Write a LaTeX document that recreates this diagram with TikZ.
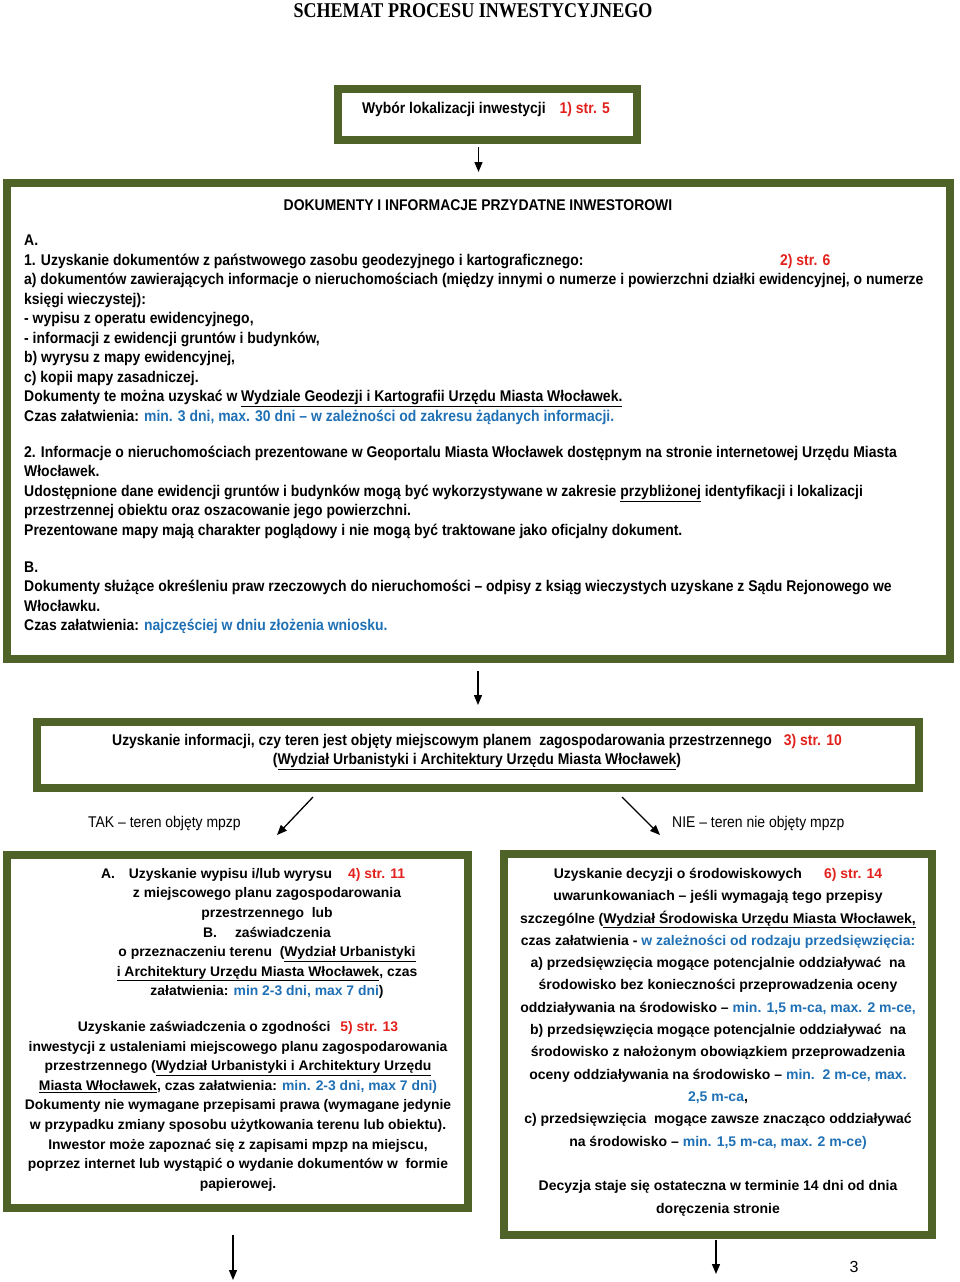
\documentclass[tikz,border=0pt]{standalone}
\usepackage{fontspec}
\setmainfont{Liberation Sans}
\newfontfamily\narrowfont[FakeStretch=0.9]{Liberation Sans}
\newfontfamily\titlefont[FakeStretch=0.86]{Liberation Serif}
\usetikzlibrary{positioning, arrows.meta}
\definecolor{olivebox}{HTML}{4F6228}
\definecolor{refred}{HTML}{E2211C}
\definecolor{timeblue}{HTML}{1F70B5}
\newcommand{\strref}[1]{\textcolor{refred}{#1}}
\newcommand{\czas}[1]{\textcolor{timeblue}{#1}}
\newcommand{\undl}[1]{\underline{#1}}

\begin{document}
\begin{tikzpicture}[x=1pt, y=-1pt,
	frame/.style={draw=olivebox, line width=8pt, fill=white, inner sep=0pt},
	narrow/.style={font=\narrowfont\bfseries\fontsize{15.5}{19.5}\selectfont, inner sep=0pt},
	plain/.style={font=\narrowfont\fontsize{15.5}{18}\selectfont, inner sep=0pt},
	boldtxt/.style={font=\bfseries\fontsize{13.9}{19.6}\selectfont, inner sep=0pt, align=center},
	arr/.style={-{Triangle[length=10pt,width=8pt]}, line width=1.3pt}]
	\useasboundingbox (0,0) rectangle (960,1282);
	\node[font=\titlefont\bfseries\fontsize{21}{24}\selectfont, inner sep=0pt] (title) at (473,11) {SCHEMAT PROCESU INWESTYCYJNEGO};

	\node[frame, minimum width=299pt, minimum height=51pt] (lok) at (487.5,114.5) {};
	\node[narrow] (lokT) at (486,109) {Wybór lokalizacji inwestycji\hspace{14pt}\strref{1) str. 5}};

	\node[frame, minimum width=943pt, minimum height=476pt] (docs) at (478.5,421) {};
	\node[narrow] (docsTitle) at (478,205) {DOKUMENTY I INFORMACJE PRZYDATNE INWESTOROWI};
	\node[narrow, align=left, anchor=north west] (docsText) at (24,235) {A.\\
		1. Uzyskanie dokumentów z państwowego zasobu geodezyjnego i kartograficznego:\\
		a) dokumentów zawierających informacje o nieruchomościach (między innymi o numerze i powierzchni działki ewidencyjnej, o numerze\\
		księgi wieczystej):\\
		- wypisu z operatu ewidencyjnego,\\
		- informacji z ewidencji gruntów i budynków,\\
		b) wyrysu z mapy ewidencyjnej,\\
		c) kopii mapy zasadniczej.\\
		Dokumenty te można uzyskać w \undl{Wydziale Geodezji i Kartografii Urzędu Miasta Włocławek.}\\
		Czas załatwienia: \czas{min. 3 dni, max. 30 dni – w zależności od zakresu żądanych informacji.}\\[16.5pt]
		2. Informacje o nieruchomościach prezentowane w Geoportalu Miasta Włocławek dostępnym na stronie internetowej Urzędu Miasta\\
		Włocławek.\\
		Udostępnione dane ewidencji gruntów i budynków mogą być wykorzystywane w zakresie \undl{przybliżonej} identyfikacji i lokalizacji\\
		przestrzennej obiektu oraz oszacowanie jego powierzchni.\\
		Prezentowane mapy mają charakter poglądowy i nie mogą być traktowane jako oficjalny dokument.\\[17.5pt]
		B.\\
		Dokumenty służące określeniu praw rzeczowych do nieruchomości – odpisy z ksiąg wieczystych uzyskane z Sądu Rejonowego we\\
		Włocławku.\\
		Czas załatwienia: \czas{najczęściej w dniu złożenia wniosku.}};
	\node[narrow, anchor=west] (strGeo) at (780,261) {\strref{2) str. 6}};
	\draw[arr, shorten <=3pt, shorten >=7pt] (lok.south -| docs.north) -- (docs.north);

	\node[frame, minimum width=882pt, minimum height=66pt] (mpzp) at (478,755) {};
	\node[narrow, align=center] (mpzpT) at (477,752) {Uzyskanie informacji, czy teren jest objęty miejscowym planem\ \ zagospodarowania przestrzennego\hspace{12pt}\strref{3) str. 10}\\
		(\undl{Wydział Urbanistyki i Architektury Urzędu Miasta Włocławek})};
	\draw[arr, shorten <=8pt, shorten >=13pt] (docs.south -| mpzp.north) -- (mpzp.north);

	\node[plain, anchor=west] (tak) at (88,823) {TAK – teren objęty mpzp};
	\node[plain, anchor=west] (nie) at (672,823) {NIE – teren nie objęty mpzp};
	\coordinate (takEnd) at (277,835);
	\coordinate (nieEnd) at (660,835);
	\draw[arr] (mpzp.south) ++(-165,5) -- (takEnd);
	\draw[arr] (mpzp.south) ++(144,5) -- (nieEnd);

	\node[frame, minimum width=461pt, minimum height=353pt] (wypis) at (237.5,1031.5) {};
	\node[boldtxt, anchor=north] (wypisA) at (267,868) {A.\hspace{14pt}Uzyskanie wypisu i/lub wyrysu\hspace{16pt}\strref{4) str. 11}\hspace*{28pt}\\
		z miejscowego planu zagospodarowania\\
		przestrzennego\ \ lub\\
		B.\hspace{18pt}zaświadczenia\hspace*{28pt}\\
		o przeznaczeniu terenu\ \ (\undl{Wydział Urbanistyki}\\
		\undl{i Architektury Urzędu Miasta Włocławek}, czas\\
		załatwienia: \czas{min 2-3 dni, max 7 dni})};
	\node[boldtxt, anchor=north] (zgodnosc) at (238,1021) {Uzyskanie zaświadczenia o zgodności\hspace{10pt}\strref{5) str. 13}\\
		inwestycji z ustaleniami miejscowego planu zagospodarowania\\
		przestrzennego (\undl{Wydział Urbanistyki i Architektury Urzędu}\\
		\undl{Miasta Włocławek}, czas załatwienia: \czas{min. 2-3 dni, max 7 dni)}\\
		Dokumenty nie wymagane przepisami prawa (wymagane jedynie\\
		w przypadku zmiany sposobu użytkowania terenu lub obiektu).\\
		Inwestor może zapoznać się z zapisami mpzp na miejscu,\\
		poprzez internet lub wystąpić o wydanie dokumentów w\ \ formie\\
		papierowej.};

	\node[frame, minimum width=428pt, minimum height=381pt] (srod) at (718,1044.5) {};
	\node[boldtxt, font=\bfseries\fontsize{14}{22.3}\selectfont, anchor=north] (srodT) at (718,868) {Uzyskanie decyzji o środowiskowych\hspace{22pt}\strref{6) str. 14}\\
		uwarunkowaniach – jeśli wymagają tego przepisy\\
		szczególne (\undl{Wydział Środowiska Urzędu Miasta Włocławek,}\\
		czas załatwienia - \czas{w zależności od rodzaju przedsięwzięcia:}\\
		a) przedsięwzięcia mogące potencjalnie oddziaływać\ \ na\\
		środowisko bez konieczności przeprowadzenia oceny\\
		oddziaływania na środowisko – \czas{min. 1,5 m-ca, max. 2 m-ce,}\\
		b) przedsięwzięcia mogące potencjalnie oddziaływać\ \ na\\
		środowisko z nałożonym obowiązkiem przeprowadzenia\\
		oceny oddziaływania na środowisko – \czas{min.\ \ 2 m-ce, max.}\\
		\czas{2,5 m-ca},\\
		c) przedsięwzięcia\ \ mogące zawsze znacząco oddziaływać\\
		na środowisko – \czas{min. 1,5 m-ca, max. 2 m-ce)}\\[22.5pt]
		Decyzja staje się ostateczna w terminie 14 dni od dnia\\
		doręczenia stronie};

	\coordinate (wypisEnd) at (233,1280);
	\coordinate (srodEnd) at (716,1274);
	\draw[arr] (wypis.south) ++(-4.5,23) -- (wypisEnd);
	\draw[arr] (srod.south) ++(-2,1) -- (srodEnd);
	\node[font=\fontsize{16}{18}\selectfont, inner sep=0pt] (pagenum) at (854,1267) {3};
\end{tikzpicture}
\end{document}
